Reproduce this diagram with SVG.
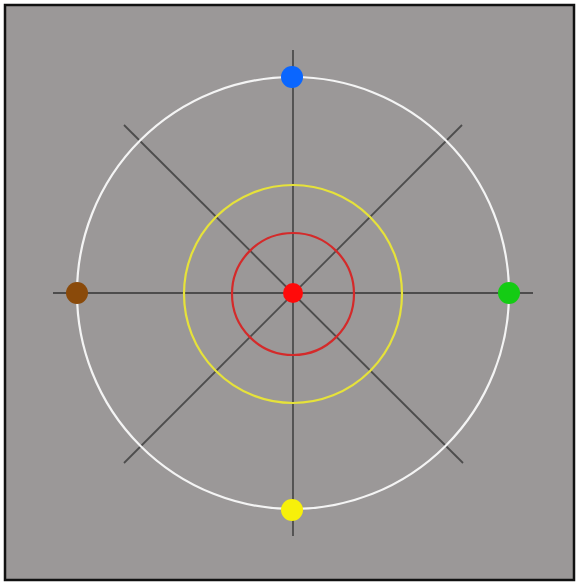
<svg xmlns="http://www.w3.org/2000/svg" width="579" height="584" viewBox="0 0 579 584">
<style>
.axis{stroke:#3a3a3a;stroke-width:1.8;stroke-opacity:0.8}
.ring{fill:none;stroke-width:2.2}
</style>
<rect x="0" y="0" width="579" height="584" fill="#ffffff"/>
<rect x="5" y="5" width="569" height="575" fill="#9b9898" stroke="#111" stroke-width="2.5"/>
<g id="connectors">
<line class="axis" x1="53" y1="293" x2="533" y2="293"/>
<line class="axis" x1="293" y1="50" x2="293" y2="536"/>
<line class="axis" x1="124" y1="125" x2="463" y2="463"/>
<line class="axis" x1="462" y1="125" x2="124" y2="463"/>
</g>
<g id="outer-ring"><circle class="ring" cx="293" cy="293" r="216" stroke="#f4f4f4"/></g>
<g id="yellow-ring"><circle class="ring" cx="293" cy="294" r="109" stroke="#e6e23a"/></g>
<g id="red-ring"><circle class="ring" cx="293" cy="294" r="61" stroke="#d42a2a"/></g>
<g id="center"><circle cx="293" cy="293" r="10" fill="#ff0a0a"/></g>
<g id="top"><circle cx="292" cy="77" r="11" fill="#0a66ff"/></g>
<g id="right"><circle cx="509" cy="293" r="11" fill="#14cc14"/></g>
<g id="bottom"><circle cx="292" cy="510" r="11" fill="#f7f00a"/></g>
<g id="left"><circle cx="77" cy="293" r="11" fill="#8a4a0a"/></g>
</svg>
